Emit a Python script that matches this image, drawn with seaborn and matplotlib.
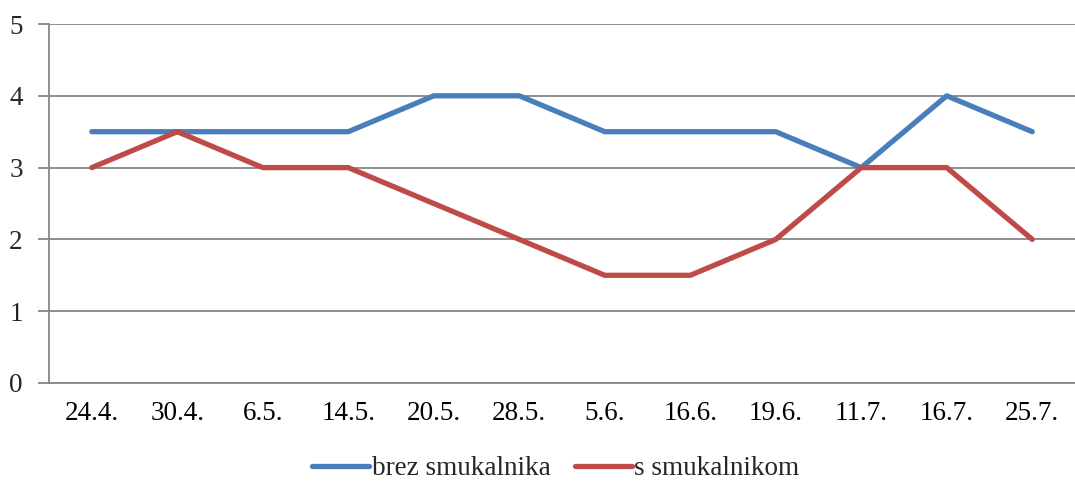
import numpy as np
import pandas as pd
import matplotlib
matplotlib.use("Agg")
import matplotlib.pyplot as plt
import seaborn as sns

sns.set_style("white")
plt.rcParams["font.family"] = ["Liberation Serif", "DejaVu Serif"]

# data
dates = ["24.4.", "30.4.", "6.5.", "14.5.", "20.5.", "28.5.",
         "5.6.", "16.6.", "19.6.", "11.7.", "16.7.", "25.7."]
brez = [3.5, 3.5, 3.5, 3.5, 4, 4, 3.5, 3.5, 3.5, 3, 4, 3.5]
s_smuk = [3, 3.5, 3, 3, 2.5, 2, 1.5, 1.5, 2, 3, 3, 2]
series_names = ["brez smukalnika", "s smukalnikom"]
colors = ["#4A7EBB", "#BE4B48"]

df = pd.DataFrame({
    "x": list(range(len(dates))) * 2,
    "val": brez + s_smuk,
    "serija": [series_names[0]] * len(dates) + [series_names[1]] * len(dates),
})

fig = plt.figure(figsize=(10.75, 4.82), dpi=100)
ax = fig.add_axes([0.0456, 0.2054, 0.9544, 0.7448])

sns.lineplot(data=df, x="x", y="val", hue="serija", palette=colors,
             linewidth=3.8, ax=ax, legend=False, zorder=3)
for line in ax.lines:
    line.set_solid_capstyle("round")
    line.set_solid_joinstyle("round")

grid_c = "#868686"
fs = 19.5
ax.set_ylim(0, 5)
ax.set_xlim(-0.5, 11.38)
ax.set_yticks(range(6))
ax.yaxis.grid(True, color=grid_c, linewidth=1.3)
ax.set_axisbelow(True)

ax.set_xticks(range(len(dates)))
ax.set_xticklabels(dates)
ax.set_xticks(np.arange(-0.5, 11.6, 1), minor=True)
ax.tick_params(axis="x", which="major", length=0, pad=13, labelsize=fs, colors="black")
ax.tick_params(axis="x", which="minor", length=8, width=1.3, color=grid_c)
ax.tick_params(axis="y", length=8, width=1.3, color=grid_c, pad=11, labelsize=fs, left=True)
ax.set_xlabel("")
ax.set_ylabel("")

for side in ["top", "right"]:
    ax.spines[side].set_visible(False)
for side in ["left", "bottom"]:
    ax.spines[side].set_color(grid_c)
    ax.spines[side].set_linewidth(1.3)

handles = [plt.Line2D([], [], color=c, linewidth=3.8, solid_capstyle="round") for c in colors]
fig.legend(handles, series_names, loc="center", bbox_to_anchor=(0.517, 0.027),
           ncol=2, frameon=False, fontsize=fs, handlelength=2.1,
           handletextpad=0.1, columnspacing=0.9)

fig.savefig("out.png", dpi=100)
